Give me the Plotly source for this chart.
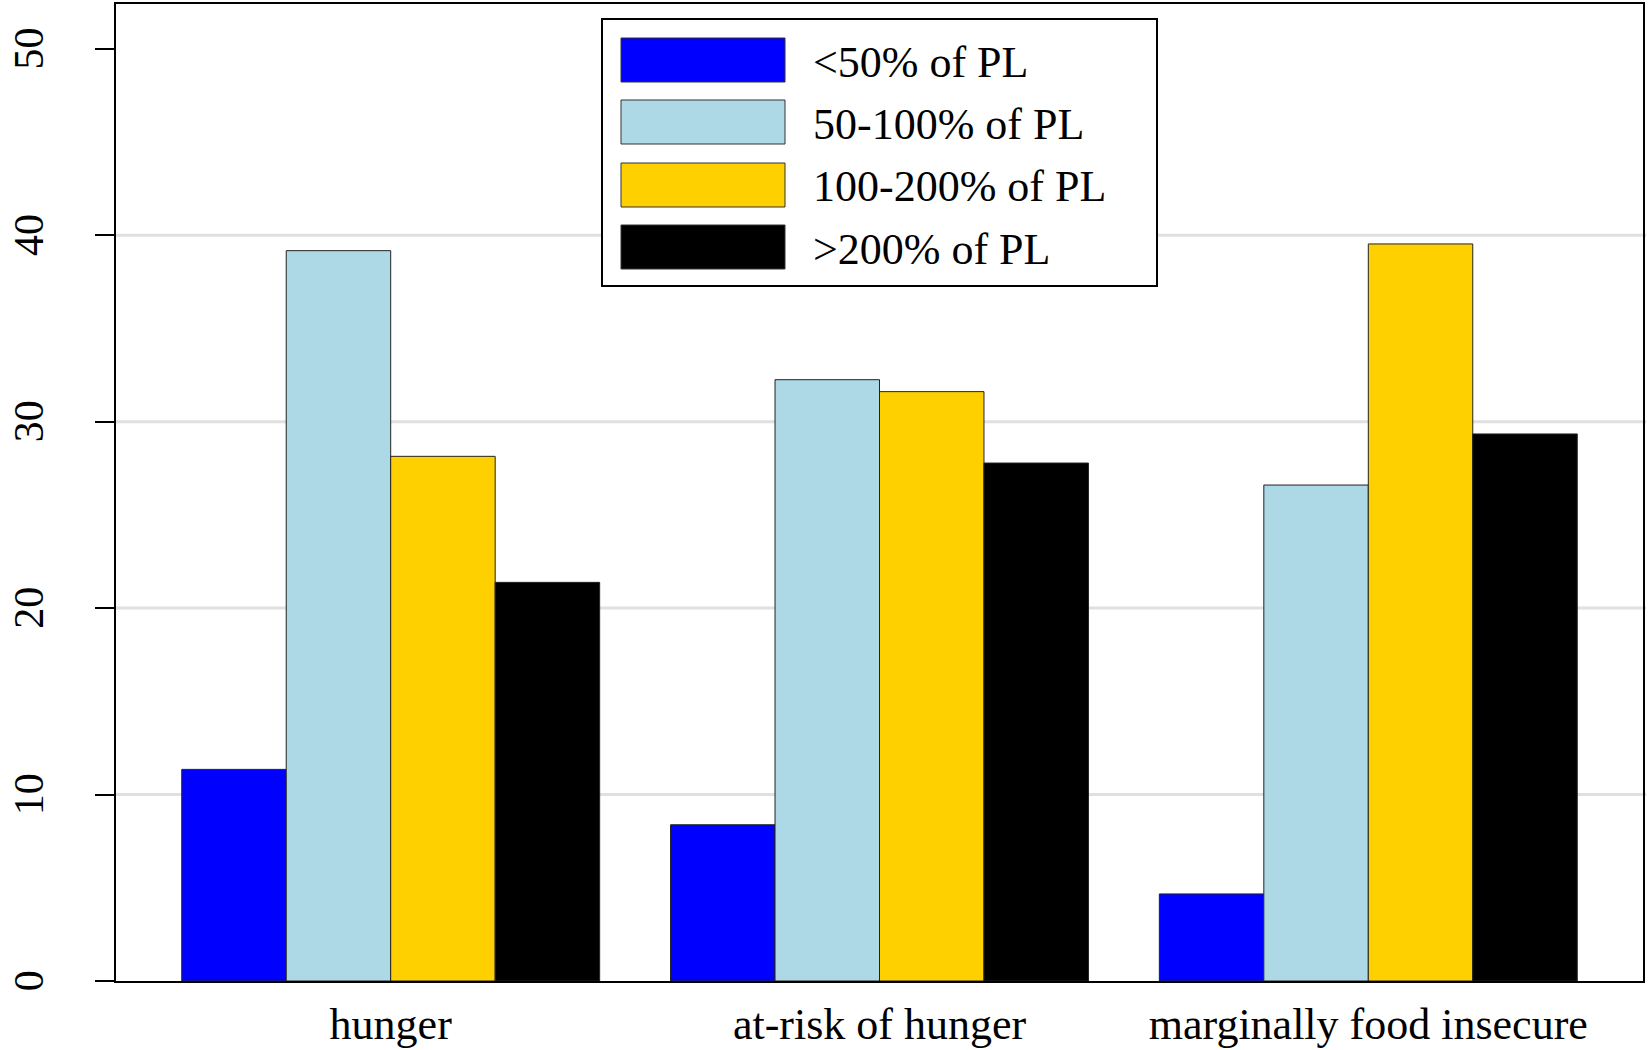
import plotly.graph_objects as go

categories = ["hunger", "at-risk of hunger", "marginally food insecure"]
series_names = ["<50% of PL", "50-100% of PL", "100-200% of PL", ">200% of PL"]
series_colors = ["#0000FF", "#ADD8E6", "#FFD000", "#000000"]
below_50 = [11.35, 8.38, 4.67]
pct_50_100 = [39.17, 32.25, 26.6]
pct_100_200 = [28.14, 31.61, 39.53]
above_200 = [21.38, 27.78, 29.34]
series_values = [below_50, pct_50_100, pct_100_200, above_200]
y_ticks = [0, 10, 20, 30, 40, 50]
grid_values = [10, 20, 30, 40]

W, H = 1649, 1050
L, R, T, B = 116, 6, 4, 69
FONT = "Liberation Serif"

fig = go.Figure()
for name, color, vals in zip(series_names, series_colors, series_values):
    fig.add_trace(go.Bar(
        x=categories, y=vals, name=name,
        marker=dict(color=color, line=dict(color="#222222", width=1)),
        showlegend=False,
    ))

pw = W - L - R
ph = H - T - B

def px2paper_x(X):
    return (X - L) / pw

def px2paper_y(Y):
    return (H - B - Y) / ph

shapes = []
annotations = []
# gridlines (only at 10..40, as in the reference)
for g in grid_values:
    shapes.append(dict(type="line", xref="paper", yref="y", x0=0, x1=1.002, y0=g, y1=g,
                       line=dict(color="#E0E0E0", width=3), layer="below"))
# manual legend
shapes.append(dict(type="rect", xref="paper", yref="paper",
                   x0=px2paper_x(602), x1=px2paper_x(1157),
                   y0=px2paper_y(286), y1=px2paper_y(19),
                   line=dict(color="black", width=2), fillcolor="white", layer="above"))
row_tops = [38, 100, 163, 225]
for i, (name, color) in enumerate(zip(series_names, series_colors)):
    y0 = row_tops[i]
    y1 = y0 + 44
    shapes.append(dict(type="rect", xref="paper", yref="paper",
                       x0=px2paper_x(621), x1=px2paper_x(785),
                       y0=px2paper_y(y1), y1=px2paper_y(y0),
                       line=dict(color="#333333", width=1), fillcolor=color, layer="above"))
    annotations.append(dict(xref="paper", yref="paper",
                            x=px2paper_x(811), y=px2paper_y((y0 + y1) / 2 + 2),
                            text=name, showarrow=False, xanchor="left", yanchor="middle",
                            font=dict(family=FONT, size=44, color="black")))

fig.update_layout(
    width=W, height=H,
    margin=dict(l=L, r=R, t=T, b=B),
    paper_bgcolor="white", plot_bgcolor="white",
    barmode="group", bargap=0.145, bargroupgap=0,
    shapes=shapes, annotations=annotations,
    font=dict(family=FONT, color="black"),
)
fig.update_xaxes(
    range=[-0.562, 2.562], showgrid=False, zeroline=False, automargin=False,
    showline=True, linecolor="black", linewidth=2, mirror=True,
    ticks="", tickfont=dict(family=FONT, size=44, color="black"),
    ticklabelstandoff=3,
)
fig.update_yaxes(
    range=[0, 52.4], tickvals=y_ticks, ticktext=[str(v) for v in y_ticks],
    showgrid=False, zeroline=False, automargin=False,
    showline=True, linecolor="black", linewidth=2, mirror=True,
    ticks="outside", ticklen=19, tickwidth=2, tickcolor="black",
    tickangle=-90, tickfont=dict(family=FONT, size=42, color="black"),
    ticklabelstandoff=35, ticklabelshift=6,
)

fig.write_html(
    "out.html",
    config={"displayModeBar": False},
    post_script="document.body.style.margin='0';document.body.style.overflow='hidden';",
)
